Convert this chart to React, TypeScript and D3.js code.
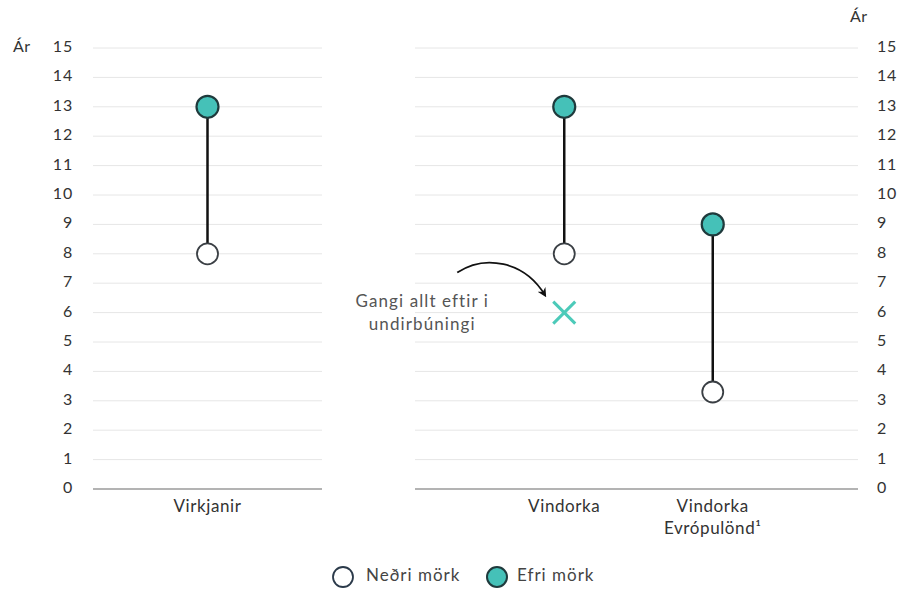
import React from "react";
import * as d3 from "d3";

const categories = ["Virkjanir", "Vindorka", "Vindorka Evrópulönd¹"];
const leftCategories = ["Virkjanir"];
const rightCategories = ["Vindorka", "Vindorka Evrópulönd¹"];
const lowerBound = [8, 8, 3.3];
const upperBound = [13, 13, 9];
const scenarioCategory = "Vindorka";
const scenarioValue = 6;
const yTicks = [0, 1, 2, 3, 4, 5, 6, 7, 8, 9, 10, 11, 12, 13, 14, 15];
const annotationLines = ["Gangi allt eftir i", "undirbúningi"];
const legendLabels = ["Neðri mörk", "Efri mörk"];

const W = 900;
const H = 589;
const FONT = "Lato, 'Open Sans', sans-serif";
const TEAL = "#45c1b8";
const DARK = "#1f3a3c";
const TEXT = "#333";

export default function App() {
  const y = d3.scaleLinear().domain([0, 15]).range([489, 48]);
  const xLeft = d3.scaleBand<string>().domain(leftCategories).range([93, 322]);
  const xRight = d3.scaleBand<string>().domain(rightCategories).range([490, 787]);
  const xOf = (c: string) =>
    leftCategories.includes(c)
      ? (xLeft(c) as number) + xLeft.bandwidth() / 2
      : (xRight(c) as number) + xRight.bandwidth() / 2;

  const panels = [
    [93, 322],
    [415, 858],
  ];

  const sx = xOf(scenarioCategory);
  const sy = y(scenarioValue);
  const xs = 11;

  const arrowPath = d3.path();
  arrowPath.moveTo(sx - 107, sy - 40);
  arrowPath.bezierCurveTo(sx - 80, sy - 58, sx - 40, sy - 52, sx - 19, sy - 17);

  return (
    <svg
      width={W}
      height={H}
      style={{ position: "absolute", left: 0, top: 0, background: "#fff" }}
      fontFamily={FONT}
    >
      <defs>
        <marker
          id="ah"
          viewBox="0 0 10 10"
          refX="8"
          refY="5"
          markerWidth="5"
          markerHeight="5"
          orient="auto"
        >
          <path d="M0,0 L10,5 L0,10 L3,5 Z" fill="#111" />
        </marker>
      </defs>

      {/* gridlines */}
      {panels.map((p, pi) =>
        yTicks.map((t) => (
          <line
            key={`g${pi}-${t}`}
            x1={p[0]}
            x2={p[1]}
            y1={y(t)}
            y2={y(t)}
            stroke={t === 0 ? "#9a9a9a" : "#e6e6e6"}
            strokeWidth={t === 0 ? 1.3 : 1}
          />
        ))
      )}

      {/* y axis labels */}
      {yTicks.map((t) => (
        <g key={`t${t}`} fontSize={16} fill={TEXT} letterSpacing={0.8}>
          <text x={73} y={y(t)} textAnchor="end" dominantBaseline="middle">
            {t}
          </text>
          <text x={877} y={y(t)} textAnchor="start" dominantBaseline="middle">
            {t}
          </text>
        </g>
      ))}
      <text x={13} y={y(15)} dominantBaseline="middle" fontSize={16} fill={TEXT} letterSpacing={0.5}>
        Ár
      </text>
      <text x={850} y={18} dominantBaseline="middle" fontSize={16} fill={TEXT} letterSpacing={0.5}>
        Ár
      </text>

      {/* category labels */}
      {categories.map((c) => {
        const parts = c === "Vindorka Evrópulönd¹" ? ["Vindorka", "Evrópulönd¹"] : [c];
        return (
          <text
            key={`c${c}`}
            x={xOf(c)}
            textAnchor="middle"
            fontSize={17}
            fill={TEXT}
            letterSpacing={0.6}
          >
            {parts.map((pt, i) => (
              <tspan key={i} x={xOf(c)} y={512 + i * 22}>
                {pt}
              </tspan>
            ))}
          </text>
        );
      })}

      {/* dumbbells */}
      {categories.map((c, i) => (
        <g key={`d${c}`}>
          <line
            x1={xOf(c)}
            x2={xOf(c)}
            y1={y(lowerBound[i])}
            y2={y(upperBound[i])}
            stroke="#111"
            strokeWidth={2.5}
          />
          <circle cx={xOf(c)} cy={y(lowerBound[i])} r={10.5} fill="#fff" stroke="#3a3f44" strokeWidth={1.8} />
          <circle cx={xOf(c)} cy={y(upperBound[i])} r={11} fill={TEAL} stroke={DARK} strokeWidth={2.2} />
        </g>
      ))}

      {/* scenario X */}
      <g stroke="#4ccab9" strokeWidth={3} strokeLinecap="butt">
        <line x1={sx - xs} y1={sy - xs} x2={sx + xs} y2={sy + xs} />
        <line x1={sx - xs} y1={sy + xs} x2={sx + xs} y2={sy - xs} />
      </g>

      {/* annotation */}
      <path d={arrowPath.toString()} fill="none" stroke="#111" strokeWidth={1.8} markerEnd="url(#ah)" />
      {annotationLines.map((l, i) => (
        <text
          key={`a${i}`}
          x={sx - 142}
          y={sy - 6 + i * 23}
          textAnchor="middle"
          fontSize={17}
          letterSpacing={1.1}
          fill="#555"
        >
          {l}
        </text>
      ))}

      {/* legend */}
      <circle cx={343} cy={577} r={10} fill="#fff" stroke="#2b3a4a" strokeWidth={1.8} />
      <text x={366} y={577} dominantBaseline="middle" fontSize={17} letterSpacing={1} fill="#444">
        {legendLabels[0]}
      </text>
      <circle cx={497} cy={577} r={10} fill={TEAL} stroke={DARK} strokeWidth={2} />
      <text x={517} y={577} dominantBaseline="middle" fontSize={17} letterSpacing={1} fill="#444">
        {legendLabels[1]}
      </text>
    </svg>
  );
}
